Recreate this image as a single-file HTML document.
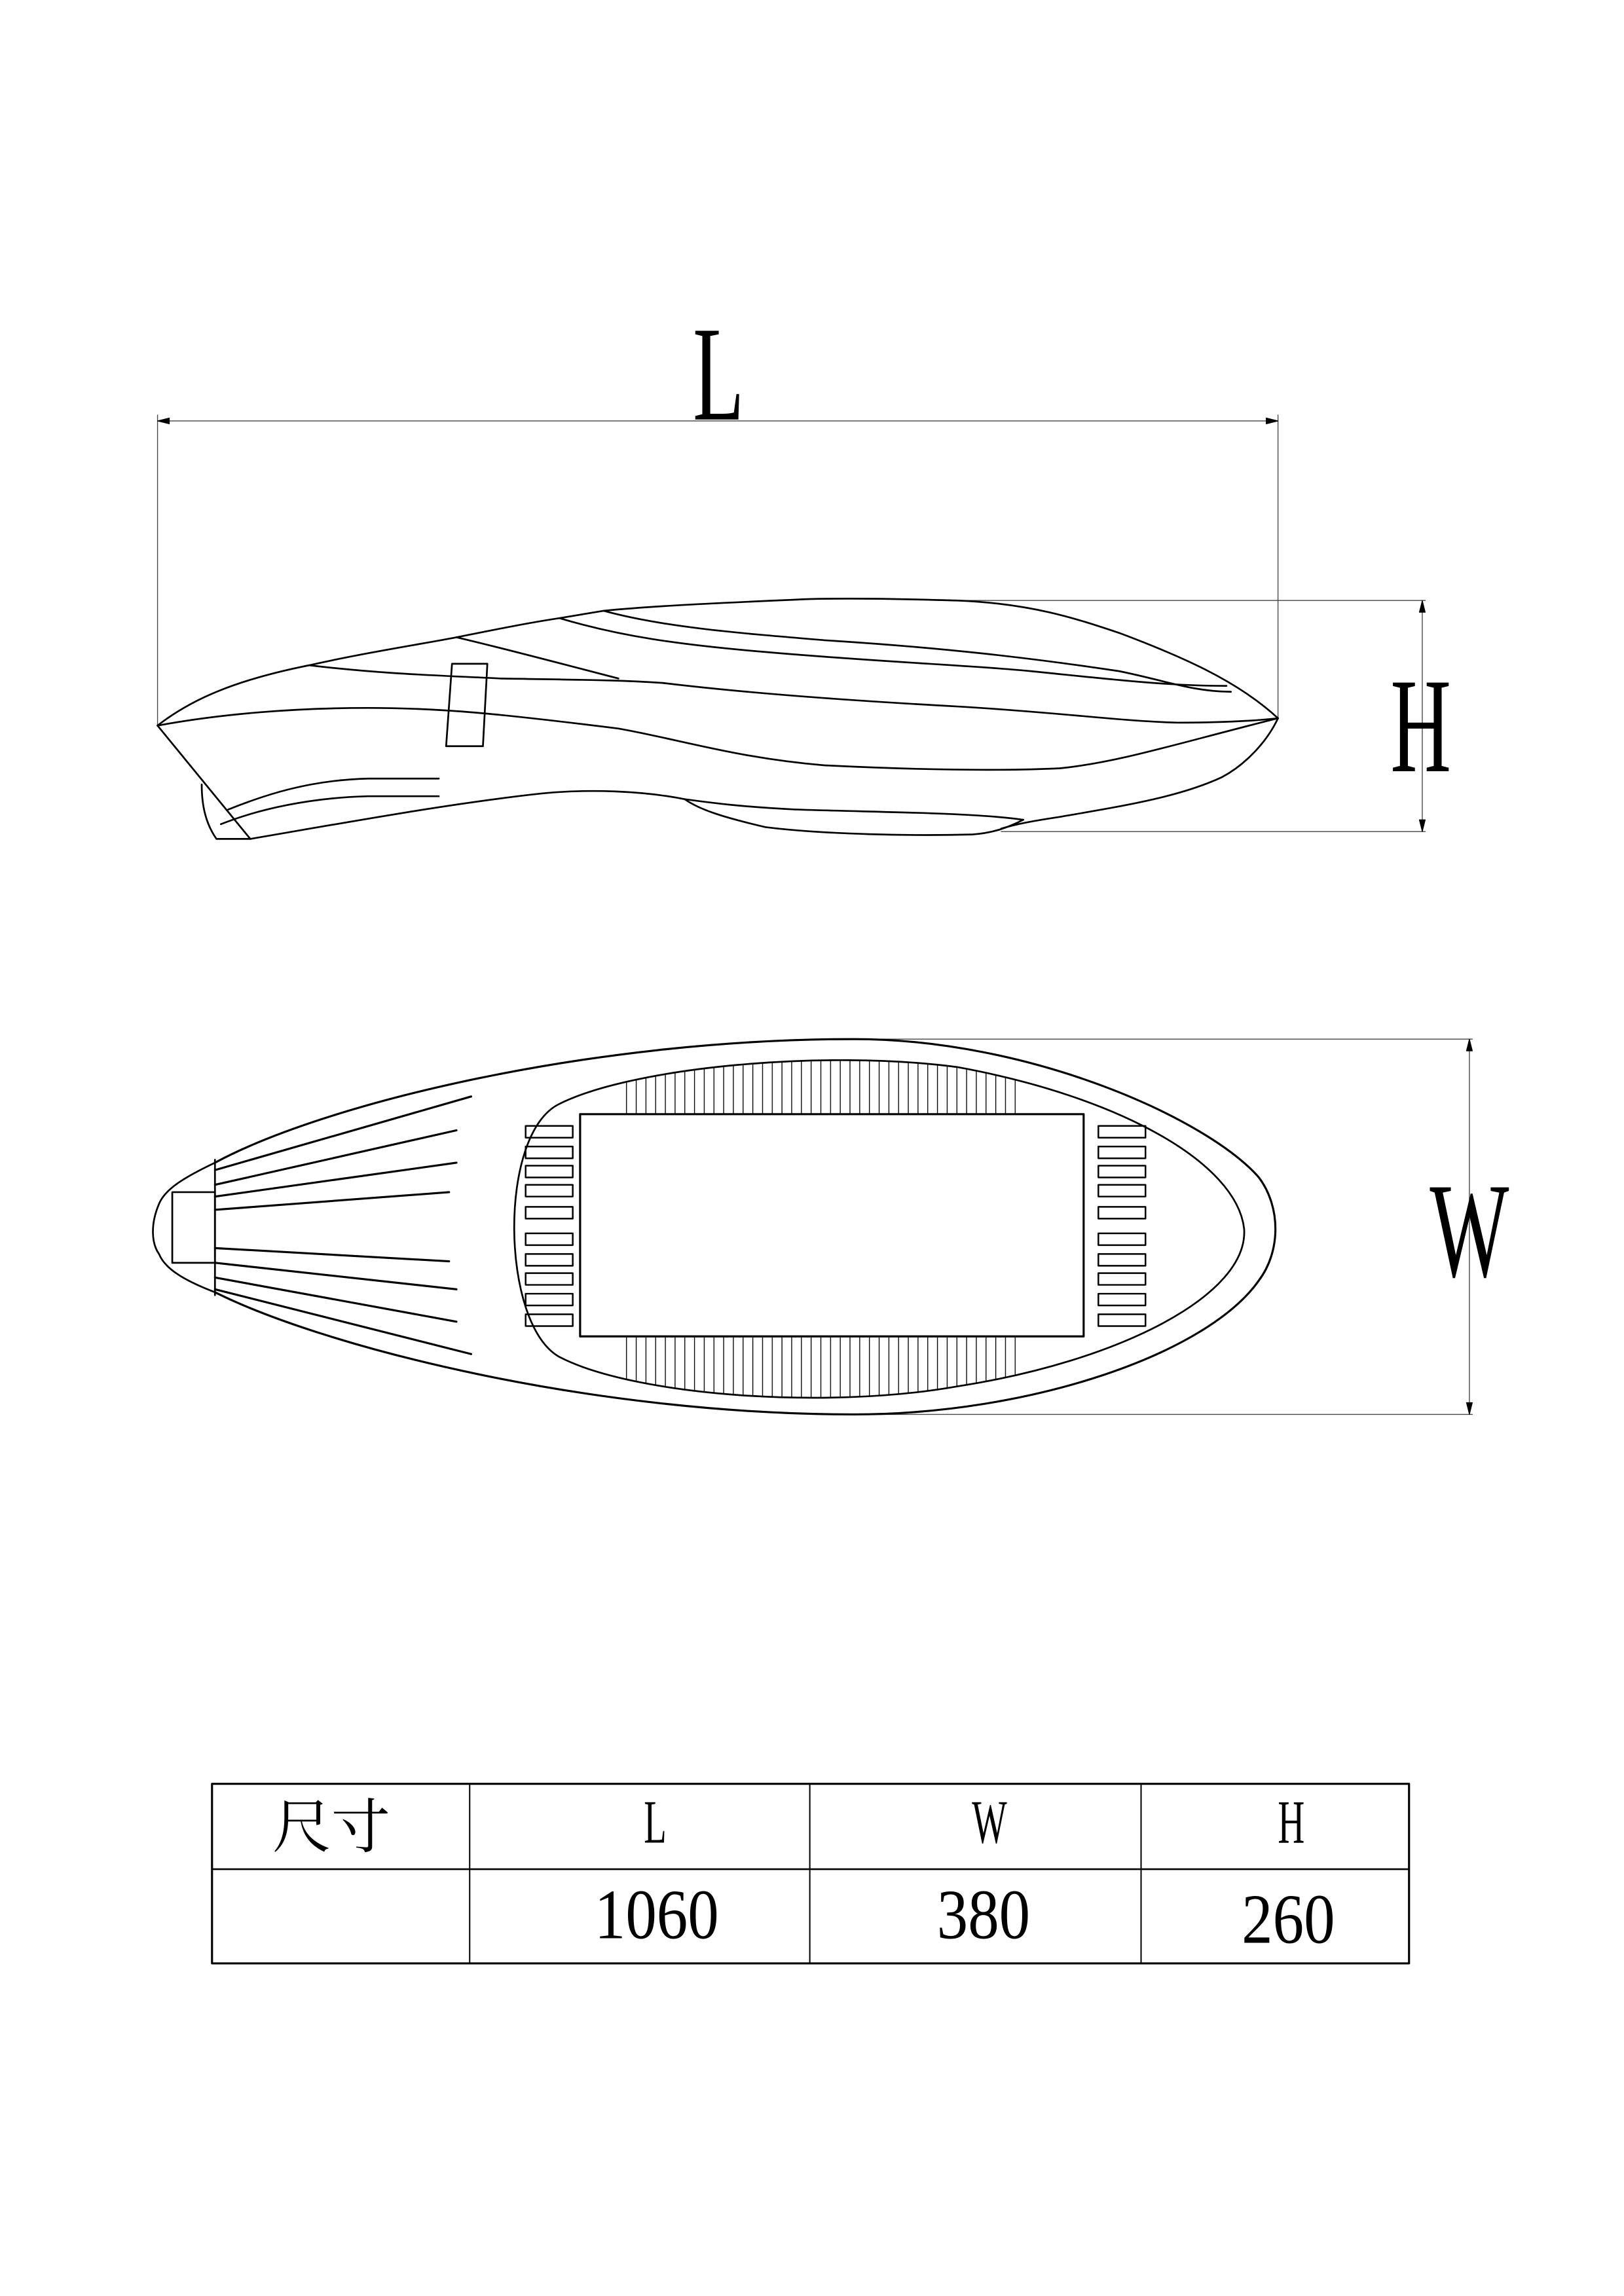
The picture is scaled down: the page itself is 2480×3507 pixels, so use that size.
<!DOCTYPE html>
<html><head><meta charset="utf-8"><style>
html,body{margin:0;padding:0;background:#fff}
svg{display:block}
text{font-family:"Liberation Serif","Noto Serif CJK SC",serif;fill:#000}
</style></head><body>
<svg width="2480" height="3507" viewBox="0 0 1103 1560" preserveAspectRatio="none" xmlns="http://www.w3.org/2000/svg">
<defs>
<pattern id="fins" x="425" y="0" width="6.6" height="10" patternUnits="userSpaceOnUse">
<line x1="0.5" y1="0" x2="0.5" y2="10" stroke="#000" stroke-width="0.6"/>
</pattern>
<clipPath id="inner"><path d="M380,750 C430,725 560,713 650,725 C760,745 840,790 845,835 C848,880 760,925 650,942 C560,958 430,948 380,922 C340,900 338,770 380,750 Z"/></clipPath>
</defs>
<g fill="none" stroke="#000" stroke-width="1.2" stroke-linejoin="round" stroke-linecap="round">
<g stroke-width="0.6" stroke="#444">
<line x1="107" y1="286" x2="868" y2="286"/>
<line x1="107" y1="282" x2="107" y2="493"/>
<line x1="868" y1="282" x2="868" y2="488"/>
<line x1="655" y1="408" x2="968" y2="408"/>
<line x1="680" y1="565" x2="968" y2="565"/>
<line x1="966" y1="408" x2="966" y2="565"/>
<line x1="580" y1="706" x2="1000" y2="706"/>
<line x1="580" y1="961" x2="1000" y2="961"/>
<line x1="998" y1="706" x2="998" y2="961"/>
</g>
<path d="M107,286 l8,-2 l0,4 Z M868,286 l-8,-2 l0,4 Z M966,408 l-2,8 l4,0 Z M966,565 l-2,-8 l4,0 Z M998,706 l-2,8 l4,0 Z M998,961 l-2,-8 l4,0 Z" fill="#000" stroke-width="0.5"/>
<path d="M107,493 C130,475 160,462 210,452 C250,443 290,437 310,433 C340,427 360,423 380,420 L410,415 C440,412 480,410 550,407 C600,406 640,408 650,408 C700,410 730,420 760,430 C800,445 840,462 868,488"/>
<path d="M868,488 C860,505 845,520 830,528 C800,542 760,548 720,555 C700,558 690,560 680,563"/>
<path d="M695,557 C660,552 600,552 540,550 C500,548 480,545 465,543 C440,538 400,535 360,540 C300,547 240,558 170,570"/>
<path d="M465,543 C475,550 490,555 520,562 C560,567 620,568 660,567 C675,566 685,562 695,557"/>
<path d="M107,493 L170,570 L147,570 M147,570 C140,560 137,548 137,533"/>
<path d="M107,493 C150,485 200,481 250,481 C300,481 340,485 420,495 C460,502 500,515 560,520 C620,523 680,524 720,522 C760,518 800,505 868,488"/>
<path d="M210,452 C260,458 300,459 340,461 C400,462 420,462 450,464 C500,470 560,475 650,480 C720,484 760,490 800,491 C830,491 850,490 868,488"/>
<path d="M310,433 C340,440 370,448 420,461"/>
<path d="M380,420 C420,432 460,438 520,443 C600,450 660,452 700,456 C750,461 790,466 833,466"/>
<path d="M410,415 C450,426 500,430 560,435 C640,440 700,447 760,456 C790,462 810,470 836,470"/>
<path d="M307,451 L331,451 L328,507 L303,507 Z"/>
<path d="M155,550 C180,540 210,530 250,529 L298,529"/>
<path d="M150,560 C175,550 210,542 250,541 L298,541"/>
<path d="M146,790 C220,750 400,706 580,706 C700,706 820,760 855,800 C870,820 870,850 855,870 C820,920 700,961 580,961 C400,961 220,915 146,878" stroke-width="1.4"/>
<path d="M146,790 C125,800 112,808 108,818 C102,832 103,845 108,852 C112,862 125,870 146,878"/>
<rect x="117" y="810" width="29" height="48"/>
<line x1="146" y1="788" x2="146" y2="880"/>
<g stroke-width="1.4">
<line x1="146" y1="795" x2="320" y2="745"/>
<line x1="146" y1="805" x2="310" y2="768"/>
<line x1="146" y1="813" x2="310" y2="790"/>
<line x1="146" y1="822" x2="305" y2="810"/>
<line x1="146" y1="848" x2="305" y2="857"/>
<line x1="146" y1="858" x2="310" y2="876"/>
<line x1="146" y1="868" x2="310" y2="898"/>
<line x1="146" y1="876" x2="320" y2="920"/>
</g>
<path d="M380,750 C430,725 560,713 650,725 C760,745 840,790 845,835 C848,880 760,925 650,942 C560,958 430,948 380,922 C340,900 338,770 380,750 Z"/>
<g clip-path="url(#inner)" stroke="none">
<rect x="425" y="700" width="266" height="57" fill="url(#fins)"/>
<rect x="425" y="908" width="266" height="60" fill="url(#fins)"/>
</g>
<rect x="394" y="757" width="342" height="151" stroke-width="1.4"/>
<g stroke-width="1.1">
<rect x="357" y="765" width="32" height="8"/><rect x="357" y="779" width="32" height="8"/><rect x="357" y="792" width="32" height="8"/><rect x="357" y="805" width="32" height="8"/><rect x="357" y="820" width="32" height="8"/><rect x="357" y="838" width="32" height="8"/><rect x="357" y="852" width="32" height="8"/><rect x="357" y="865" width="32" height="8"/><rect x="357" y="879" width="32" height="8"/><rect x="357" y="893" width="32" height="8"/>
<rect x="746" y="765" width="32" height="8"/><rect x="746" y="779" width="32" height="8"/><rect x="746" y="792" width="32" height="8"/><rect x="746" y="805" width="32" height="8"/><rect x="746" y="820" width="32" height="8"/><rect x="746" y="838" width="32" height="8"/><rect x="746" y="852" width="32" height="8"/><rect x="746" y="865" width="32" height="8"/><rect x="746" y="879" width="32" height="8"/><rect x="746" y="893" width="32" height="8"/>
</g>
<rect x="144" y="1212" width="813" height="122" stroke-width="1.4"/>
<line x1="144" y1="1270" x2="957" y2="1270"/>
<line x1="319" y1="1212" x2="319" y2="1334" stroke-width="0.9"/>
<line x1="550" y1="1212" x2="550" y2="1334" stroke-width="0.9"/>
<line x1="775" y1="1212" x2="775" y2="1334" stroke-width="0.9"/>
</g>
<g text-anchor="middle">
<text transform="translate(488,285) scale(0.62,1)" font-size="92">L</text>
<text transform="translate(965,524) scale(0.62,1)" font-size="92">H</text>
<text transform="translate(998,867) scale(0.62,1)" font-size="92">W</text>
<text x="225" y="1255" font-size="40" font-family="'Noto Serif CJK SC','Liberation Serif',serif">尺寸</text>
<text transform="translate(445,1252) scale(0.6,1)" font-size="42">L</text>
<text transform="translate(672,1252) scale(0.6,1)" font-size="42">W</text>
<text transform="translate(877,1252) scale(0.6,1)" font-size="42">H</text>
<text transform="translate(446,1317) scale(0.88,1)" font-size="48">1060</text>
<text transform="translate(668,1317) scale(0.88,1)" font-size="48">380</text>
<text transform="translate(875,1320) scale(0.88,1)" font-size="48">260</text>
</g>
</svg>
</body></html>
